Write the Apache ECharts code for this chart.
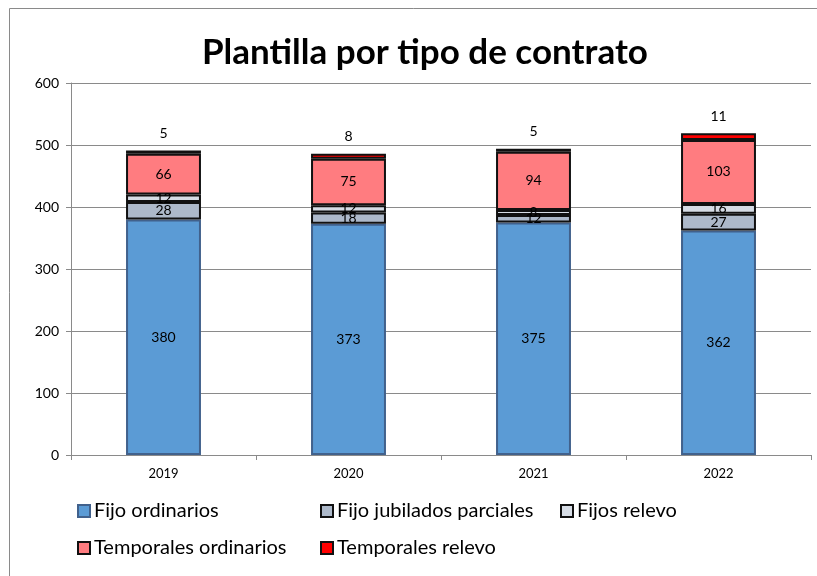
<!DOCTYPE html>
<html>
<head>
<meta charset="utf-8">
<script src="https://cdn.jsdelivr.net/npm/echarts@6/dist/echarts.min.js"></script>
<style>
  html, body { margin: 0; padding: 0; background: #fff; }
  #chart { width: 817px; height: 576px; }
</style>
</head>
<body>
<div id="chart"></div>
<script>
// datos
var years = ['2019', '2020', '2021', '2022'];
var fijoOrdinarios = [380, 373, 375, 362];
var fijoJubilados = [28, 18, 12, 27];
var fijosRelevo = [12, 12, 8, 16];
var temporalesOrdinarios = [66, 75, 94, 103];
var temporalesRelevo = [5, 8, 5, 11];
var yTicks = [0, 100, 200, 300, 400, 500, 600];

var font = 'Lato';

var seriesDefs = [
  { name: 'Fijo ordinarios', data: fijoOrdinarios, color: '#5B9BD5', border: '#41618C', pos: 'inside' },
  { name: 'Fijo jubilados parciales', data: fijoJubilados, color: '#ADB9CA', border: '#111', pos: 'inside' },
  { name: 'Fijos relevo', data: fijosRelevo, color: '#D6DCE5', border: '#111', pos: 'inside' },
  { name: 'Temporales ordinarios', data: temporalesOrdinarios, color: '#FF7C80', border: '#111', pos: 'inside' },
  { name: 'Temporales relevo', data: temporalesRelevo, color: '#FF0000', border: '#111', pos: 'top' }
];

// posiciones de la leyenda (dos filas)
var legendPos = [[77, 501], [320, 501], [560, 501], [77, 538], [320, 538]];

var myChart = echarts.init(document.getElementById('chart'));

var option = {
  animation: false,
  backgroundColor: '#fff',
  title: {
    text: 'Plantilla por tipo de contrato',
    left: 197,
    top: 30,
    textStyle: { fontFamily: font, fontSize: 35, fontWeight: 'bold', color: '#000' }
  },
  graphic: [{
    type: 'rect',
    shape: { x: 9.5, y: 8.5, width: 830, height: 600 },
    style: { fill: 'none', stroke: '#8a8a8a', lineWidth: 1 },
    silent: true
  }],
  legend: seriesDefs.map(function (s, i) {
    return {
      data: [s.name],
      left: legendPos[i][0],
      top: legendPos[i][1],
      padding: 0,
      icon: 'rect',
      itemWidth: 12,
      itemHeight: 12,
      itemGap: 6,
      textStyle: { fontFamily: font, fontSize: 20, color: '#000', padding: [0, 0, 0, -1] }
    };
  }),
  grid: { left: 71, right: 6, top: 83, bottom: 121 },
  xAxis: {
    type: 'category',
    data: years,
    axisLine: { lineStyle: { color: '#8a8a8a' } },
    axisTick: { show: true, length: 5, lineStyle: { color: '#8a8a8a' } },
    axisLabel: { fontFamily: font, fontSize: 13, color: '#000', margin: 12 }
  },
  yAxis: {
    type: 'value',
    min: 0,
    max: 600,
    interval: 100,
    axisLine: { show: true, lineStyle: { color: '#8a8a8a' } },
    axisTick: { show: true, length: 5, lineStyle: { color: '#8a8a8a' } },
    splitLine: { lineStyle: { color: '#8a8a8a' } },
    axisLabel: {
      fontFamily: font, fontSize: 14, color: '#000', margin: 12,
      formatter: function (v) { return yTicks.indexOf(v) >= 0 ? String(v) : ''; }
    }
  },
  series: seriesDefs.map(function (s) {
    return {
      name: s.name,
      type: 'bar',
      stack: 'total',
      data: s.data,
      barWidth: '40.5%',
      itemStyle: { color: s.color, borderColor: s.border, borderWidth: 2 },
      label: {
        show: true,
        position: s.pos,
        distance: 10,
        fontFamily: font,
        fontSize: 14,
        color: '#000'
      }
    };
  })
};

myChart.setOption(option);
</script>
</body>
</html>
